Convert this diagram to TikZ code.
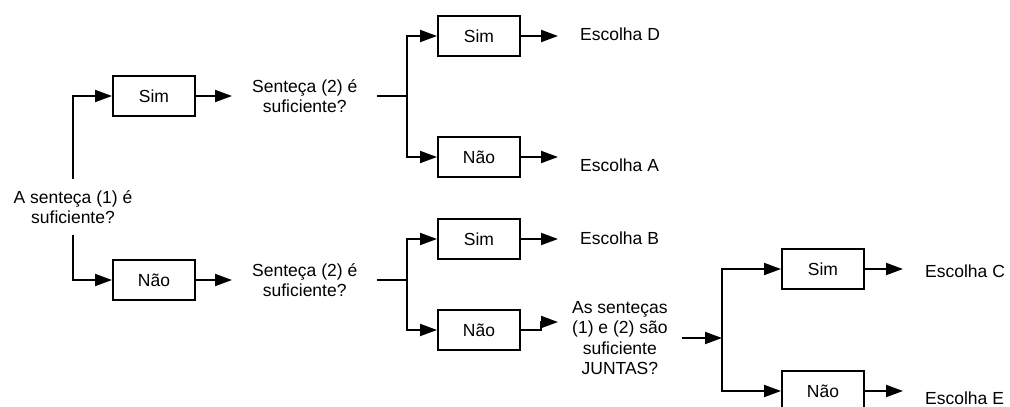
\documentclass[tikz,border=0pt]{standalone}
\usepackage{fontspec}
\setmainfont{Liberation Sans}
\usetikzlibrary{arrows.meta}
\begin{document}
\begin{tikzpicture}[x=1pt,y=-1pt,
  font=\fontsize{17.5}{20.5}\selectfont,
  box/.style={draw, line width=2pt, minimum width=82pt, minimum height=40pt, inner sep=0pt},
  txt/.style={align=center, inner xsep=20pt, inner ysep=2pt, anchor=west},
  esc/.style={anchor=west, inner xsep=22pt, inner ysep=2pt},
  line/.style={line width=2pt},
  arr/.style={line width=2pt, -{Triangle[length=17pt,width=12pt]}}]
\useasboundingbox (0,0) rectangle (1010,407);
% level 1
\node[align=center, inner ysep=11pt] (q1) at (73,207) {A senteça (1) é\\suficiente?};
\node[box] (s1) at (154,96) {Sim};
\node[box] (n1) at (154,280) {Não};
\draw[arr] (q1.north) |- (s1.west);
\draw[arr] (q1.south) |- (n1.west);
% level 2
\node[txt] (q2a) at (232,96) {Senteça (2) é\\suficiente?};
\node[txt] (q2b) at (232,280) {Senteça (2) é\\suficiente?};
\draw[arr] (s1.east) -- (q2a.west);
\draw[arr] (n1.east) -- (q2b.west);
\coordinate (j2a) at (407,96);
\coordinate (j2b) at (407,280);
\draw[line] (q2a.east) -- (j2a);
\draw[line] (q2b.east) -- (j2b);
\node[box] (s2a) at (479,36) {Sim};
\node[box] (n2a) at (479,157) {Não};
\node[box] (s2b) at (479,239) {Sim};
\node[box] (n2b) at (479,330) {Não};
\draw[arr] (j2a) |- (s2a.west);
\draw[arr] (j2a) |- (n2a.west);
\draw[arr] (j2b) |- (s2b.west);
\draw[arr] (j2b) |- (n2b.west);
\node[esc] (eD) at (558,34) {Escolha D};
\node[esc] (eA) at (558,165) {Escolha A};
\node[esc] (eB) at (558,238) {Escolha B};
\draw[arr] (s2a.east) -- (s2a.east -| eD.west);
\draw[arr] (n2a.east) -- (n2a.east -| eA.west);
\draw[arr] (s2b.east) -- (s2b.east -| eB.west);
% level 3
\node[txt, inner xsep=14pt] (q3) at (558,338) {As senteças\\(1) e (2) são\\suficiente\\JUNTAS?};
\coordinate (k) at (541,322);
\draw[arr] (n2b.east) -| (k) -- (q3.west |- k);
\coordinate (j3) at (722,338);
\draw[arr] (q3.east) -- (j3);
\node[box] (s3) at (823,269) {Sim};
\node[box] (n3) at (823,391) {Não};
\draw[arr] (j3) |- (s3.west);
\draw[arr] (j3) |- (n3.west);
\node[esc] (eC) at (903,271) {Escolha C};
\node[esc] (eE) at (903,398) {Escolha E};
\draw[arr] (s3.east) -- (s3.east -| eC.west);
\draw[arr] (n3.east) -- (n3.east -| eE.west);
\end{tikzpicture}
\end{document}
